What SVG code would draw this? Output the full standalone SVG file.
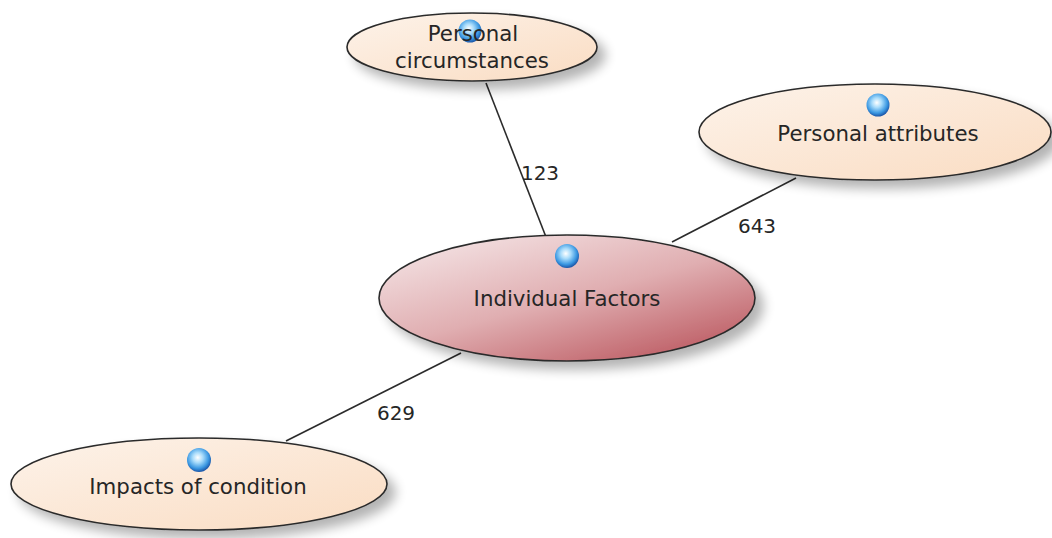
<svg xmlns="http://www.w3.org/2000/svg" width="1052" height="538" viewBox="0 0 1052 538">
  <style>
    .node-text { font-family: "DejaVu Sans", "Liberation Sans", sans-serif; font-size: 21.3px; fill: #262626; text-anchor: middle; }
    .edge-label { font-family: "DejaVu Sans", "Liberation Sans", sans-serif; font-size: 20px; fill: #262626; text-anchor: middle; }
    .edge { stroke: #2b2b2b; stroke-width: 1.6; fill: none; }
    .outline { stroke: #2b2b2b; stroke-width: 1.6; }
  </style>
  <defs>
    <linearGradient id="beige" x1="0" y1="0" x2="1" y2="1">
      <stop offset="0" stop-color="#fdf3ea"/>
      <stop offset="1" stop-color="#fadcc2"/>
    </linearGradient>
    <linearGradient id="rose" x1="0.1" y1="0" x2="0.9" y2="1">
      <stop offset="0" stop-color="#f5e6e7"/>
      <stop offset="0.5" stop-color="#e0aeb1"/>
      <stop offset="1" stop-color="#b9535b"/>
    </linearGradient>
    <radialGradient id="sphere" cx="0.45" cy="0.4" r="0.6">
      <stop offset="0" stop-color="#ffffff"/>
      <stop offset="0.35" stop-color="#a9dcfb"/>
      <stop offset="0.75" stop-color="#3b98e2"/>
      <stop offset="1" stop-color="#1b56a8"/>
    </radialGradient>
    <filter id="shadow" x="-20%" y="-30%" width="150%" height="180%">
      <feGaussianBlur in="SourceAlpha" stdDeviation="6"/>
      <feOffset dx="8" dy="8" result="b"/>
      <feComponentTransfer><feFuncA type="linear" slope="0.3"/></feComponentTransfer>
      <feMerge><feMergeNode/><feMergeNode in="SourceGraphic"/></feMerge>
    </filter>
  </defs>

  <rect width="1052" height="538" fill="#ffffff"/>

  <!-- connectors -->
  <g id="connectors">
    <line class="edge" x1="486" y1="83" x2="546" y2="237"/>
    <line class="edge" x1="796" y1="178" x2="672" y2="242"/>
    <line class="edge" x1="461" y1="353" x2="286" y2="441"/>
    <text class="edge-label" x="540" y="180">123</text>
    <text class="edge-label" x="757" y="233">643</text>
    <text class="edge-label" x="396" y="420">629</text>
  </g>

  <g id="node-circumstances">
    <ellipse class="outline" cx="472" cy="47" rx="125" ry="34" fill="url(#beige)" filter="url(#shadow)"/>
    <circle cx="470" cy="31" r="11.5" fill="url(#sphere)"/>
    <text class="node-text" x="473" y="41">Personal</text>
    <text class="node-text" x="472" y="68">circumstances</text>
  </g>

  <g id="node-attributes">
    <ellipse class="outline" cx="875" cy="132" rx="176" ry="48" fill="url(#beige)" filter="url(#shadow)"/>
    <circle cx="878" cy="105" r="11.5" fill="url(#sphere)"/>
    <text class="node-text" x="878" y="141">Personal attributes</text>
  </g>

  <g id="node-individual">
    <ellipse class="outline" cx="567" cy="298" rx="188" ry="63" fill="url(#rose)" filter="url(#shadow)"/>
    <circle cx="567" cy="256" r="12" fill="url(#sphere)"/>
    <text class="node-text" x="567" y="306">Individual Factors</text>
  </g>

  <g id="node-impacts">
    <ellipse class="outline" cx="199" cy="484" rx="188" ry="46" fill="url(#beige)" filter="url(#shadow)"/>
    <circle cx="199" cy="460" r="12" fill="url(#sphere)"/>
    <text class="node-text" x="198" y="494">Impacts of condition</text>
  </g>
</svg>
